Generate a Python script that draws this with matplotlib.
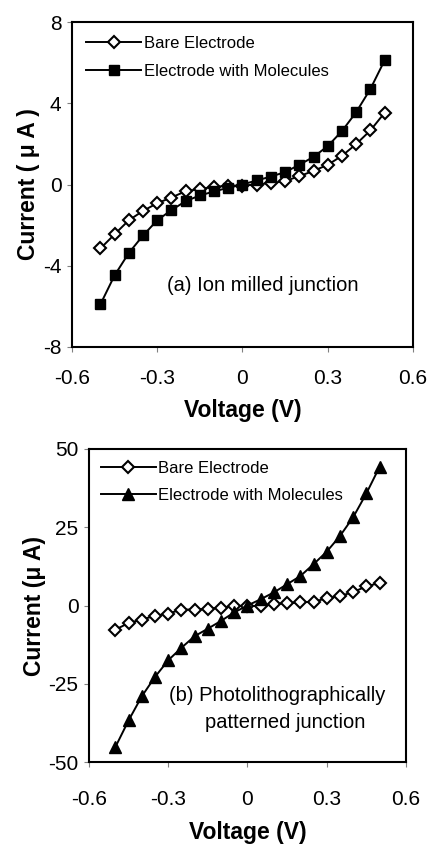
import numpy as np
import matplotlib
matplotlib.use("Agg")
import matplotlib.pyplot as plt

plt.rcParams['font.family'] = ['Liberation Sans', 'DejaVu Sans']

# Voltage sweep (V)
voltage = [-0.5, -0.45, -0.4, -0.35, -0.3, -0.25, -0.2, -0.15, -0.1, -0.05, 0.0,
           0.05, 0.1, 0.15, 0.2, 0.25, 0.3, 0.35, 0.4, 0.45, 0.5]

# (a) Ion milled junction, current in uA
bare_a = [-3.15, -2.45, -1.76, -1.3, -0.92, -0.64, -0.33, -0.22, -0.12, -0.06, -0.05,
          0.0, 0.07, 0.17, 0.41, 0.67, 0.97, 1.41, 1.99, 2.66, 3.53]
mol_a = [-5.9, -4.47, -3.37, -2.51, -1.76, -1.26, -0.82, -0.54, -0.34, -0.16, 0.0,
         0.2, 0.39, 0.61, 0.97, 1.36, 1.89, 2.63, 3.56, 4.7, 6.11]

# (b) Photolithographically patterned junction, current in uA
bare_b = [-7.7, -5.6, -4.5, -3.3, -2.6, -1.3, -1.3, -1.0, -0.7, -0.2, 0.0,
          -0.3, 0.5, 0.7, 1.0, 1.2, 2.3, 3.0, 4.3, 6.1, 7.2]
mol_b = [-45.2, -36.7, -29.0, -22.8, -17.5, -13.5, -9.8, -7.4, -4.9, -2.2, 0.0,
         2.0, 4.2, 6.8, 9.4, 13.2, 17.2, 22.2, 28.2, 35.8, 44.3]

x_ticks = [-0.6, -0.3, 0, 0.3, 0.6]
x_ticklabels = ['-0.6', '-0.3', '0', '0.3', '0.6']

fig = plt.figure(figsize=(4.31, 8.44), dpi=100)
ax1 = fig.add_axes([72 / 431, 497 / 844, 341 / 431, 325 / 844])
ax2 = fig.add_axes([89 / 431, 82 / 844, 317 / 431, 313 / 844])


def style_axes(ax, yticks, ylabel, xpad, xlabelpad):
    ax.set_xlim(-0.6, 0.6)
    ax.set_xticks(x_ticks)
    ax.set_xticklabels(x_ticklabels)
    ax.set_ylim(yticks[0], yticks[-1])
    ax.set_yticks(yticks)
    ax.set_yticklabels([str(t) for t in yticks])
    ax.tick_params(direction='out', length=3.5, width=0.8, color='#808080',
                   labelsize=15)
    ax.tick_params(axis='x', pad=xpad)
    ax.tick_params(axis='y', pad=4)
    for s in ax.spines.values():
        s.set_linewidth(1.5)
    ax.set_xlabel('Voltage (V)', fontsize=16.5, fontweight='bold', labelpad=xlabelpad)
    ax.set_ylabel(ylabel, fontsize=16.5, fontweight='bold', labelpad=2)


# top panel
ax1.plot(voltage, bare_a, '-', color='black', lw=1.4, marker='D', ms=6.5,
         mfc='white', mec='black', mew=1.5, label='Bare Electrode')
ax1.plot(voltage, mol_a, '-', color='black', lw=1.4, marker='s', ms=7,
         mfc='black', mec='black', label='Electrode with Molecules')
style_axes(ax1, [-8, -4, 0, 4, 8], 'Current ( μ A )', 12, 8)
ax1.text(0.072, -4.95, '(a) Ion milled junction', ha='center', va='center', fontsize=14.5)
ax1.legend(loc='upper left', frameon=False, fontsize=12, handlelength=3.3,
           handletextpad=0.15, borderaxespad=0.45, labelspacing=0.75)

# bottom panel
ax2.plot(voltage, bare_b, '-', color='black', lw=1.4, marker='D', ms=6.5,
         mfc='white', mec='black', mew=1.5, label='Bare Electrode')
ax2.plot(voltage, mol_b, '-', color='black', lw=1.4, marker='^', ms=8.5,
         mfc='black', mec='black', label='Electrode with Molecules')
style_axes(ax2, [-50, -25, 0, 25, 50], 'Current (μ A)', 17, 8)
ax2.text(0.114, -28.6, '(b) Photolithographically', ha='center', va='center', fontsize=14.5)
ax2.text(0.144, -37.5, 'patterned junction', ha='center', va='center', fontsize=14.5)
ax2.legend(loc='upper left', frameon=False, fontsize=12, handlelength=3.3,
           handletextpad=0.15, borderaxespad=0.3, labelspacing=0.75)

fig.savefig('out.png', dpi=100)
